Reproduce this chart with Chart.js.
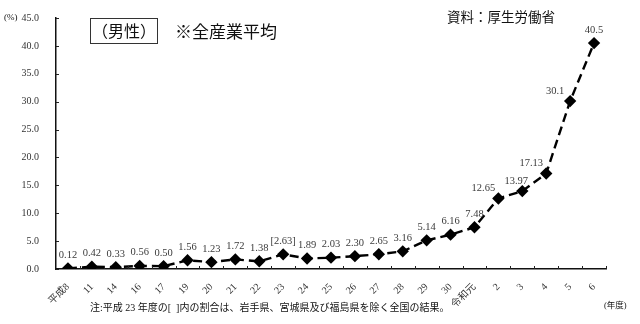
<!DOCTYPE html>
<html>
<head>
<meta charset="utf-8">
<script src="https://cdn.jsdelivr.net/npm/chart.js@4.4.1/dist/chart.umd.min.js"></script>
<style>
    html, body { margin: 0; padding: 0; background: #fff; }
    #wrap { position: relative; width: 640px; height: 324px; }
    canvas { display: block; }
</style>
</head>
<body>
<div id="wrap"><canvas id="rateChart" width="640" height="324"></canvas></div>
<script>
// 年度ラベルと割合(%)
const years = ['平成8', '11', '14', '16', '17', '19', '20', '21', '22', '23', '24', '25',
    '26', '27', '28', '29', '30', '令和元', '2', '3', '4', '5', '6'];
const rates = [0.12, 0.42, 0.33, 0.56, 0.50, 1.56, 1.23, 1.72, 1.38, 2.63, 1.89, 2.03,
    2.30, 2.65, 3.16, 5.14, 6.16, 7.48, 12.65, 13.97, 17.13, 30.1, 40.5];
const rateLabels = ['0.12', '0.42', '0.33', '0.56', '0.50', '1.56', '1.23', '1.72', '1.38', '[2.63]', '1.89', '2.03',
    '2.30', '2.65', '3.16', '5.14', '6.16', '7.48', '12.65', '13.97', '17.13', '30.1', '40.5'];

const SERIF = "'Liberation Serif', 'Noto Sans CJK JP', serif";
const SANS = "'Noto Sans CJK JP', 'Noto Sans', sans-serif";

// Inward tick marks on both axes
const innerTicks = {
    id: 'innerTicks',
    afterDraw(chart) {
        const ctx = chart.ctx;
        const x = chart.scales.x;
        const y = chart.scales.y;
        ctx.save();
        ctx.strokeStyle = '#222';
        ctx.lineWidth = 1;
        const n = x.ticks.length;
        const step = (x.right - x.left) / n;
        for (let i = 1; i <= n; i++) {
            const px = Math.round(x.left + i * step) + 0.5;
            ctx.beginPath();
            ctx.moveTo(px, y.bottom);
            ctx.lineTo(px, y.bottom - 3);
            ctx.stroke();
        }
        y.ticks.forEach(t => {
            const py = Math.round(y.getPixelForValue(t.value)) + 0.5;
            ctx.beginPath();
            ctx.moveTo(x.left, py);
            ctx.lineTo(x.left + 3, py);
            ctx.stroke();
        });
        ctx.restore();
    }
};

// Value labels above each point; the steep right part gets them on the left
const valueLabels = {
    id: 'valueLabels',
    afterDatasetsDraw(chart) {
        const ctx = chart.ctx;
        const meta = chart.getDatasetMeta(0);
        ctx.save();
        ctx.font = '10.5px ' + SERIF;
        ctx.fillStyle = '#3a3a3a';
        ctx.textAlign = 'center';
        ctx.textBaseline = 'bottom';
        meta.data.forEach((pt, i) => {
            let dx = 0, dy = -8;
            if (i >= 18 && i < rates.length - 1) {
                dx = i === 19 ? -6 : -15;
                dy = -5;
            }
            ctx.fillText(rateLabels[i], pt.x + dx, pt.y + dy);
        });
        ctx.restore();
    }
};

// Titles, source and footnote
const annotations = {
    id: 'annotations',
    afterDraw(chart) {
        const ctx = chart.ctx;
        ctx.save();
        ctx.fillStyle = '#111';
        ctx.textBaseline = 'middle';

        ctx.font = '9px ' + SERIF;
        ctx.textAlign = 'left';
        ctx.fillText('(%)', 4, 18);

        ctx.strokeStyle = '#333';
        ctx.lineWidth = 1;
        ctx.strokeRect(90.5, 18.5, 67, 25);
        ctx.font = '16px ' + SANS;
        ctx.textAlign = 'center';
        ctx.fillText('（男性）', 124, 31);

        ctx.font = '17px ' + SANS;
        ctx.textAlign = 'left';
        ctx.fillText('※全産業平均', 175, 32);

        ctx.font = '13.5px ' + SANS;
        ctx.fillText('資料：厚生労働省', 447, 17);

        ctx.font = '10px ' + SERIF;
        ctx.fillText('注:平成 23 年度の[  ]内の割合は、岩手県、宮城県及び福島県を除く全国の結果。', 90, 308);

        ctx.font = '8.5px ' + SERIF;
        ctx.fillText('(年度)', 604, 306);
        ctx.restore();
    }
};

new Chart(document.getElementById('rateChart'), {
    type: 'line',
    data: {
        labels: years,
        datasets: [{
            data: rates,
            borderColor: '#000',
            borderWidth: 2.4,
            borderDash: [9, 5],
            pointStyle: 'rectRot',
            pointRadius: 4.5,
            pointBackgroundColor: '#000',
            pointBorderColor: '#000',
            tension: 0
        }]
    },
    options: {
        responsive: false,
        animation: false,
        layout: { padding: { top: 18, right: 34, left: 0, bottom: 0 } },
        plugins: {
            legend: { display: false },
            tooltip: { enabled: false }
        },
        scales: {
            x: {
                offset: true,
                grid: { display: false },
                border: { display: true, color: '#111', width: 1.5 },
                ticks: {
                    color: '#333',
                    font: { family: SERIF, size: 10 },
                    minRotation: 45,
                    maxRotation: 45,
                    autoSkip: false,
                    padding: 4
                },
                afterFit(scale) { scale.height = 55; }
            },
            y: {
                min: 0,
                max: 45,
                grid: { display: false },
                border: { display: true, color: '#111', width: 1.5 },
                ticks: {
                    stepSize: 5,
                    color: '#333',
                    font: { family: SERIF, size: 10 },
                    padding: 9,
                    callback: v => v.toFixed(1)
                },
                afterFit(scale) { scale.width = 56; }
            }
        }
    },
    plugins: [innerTicks, valueLabels, annotations]
});
</script>
</body>
</html>
